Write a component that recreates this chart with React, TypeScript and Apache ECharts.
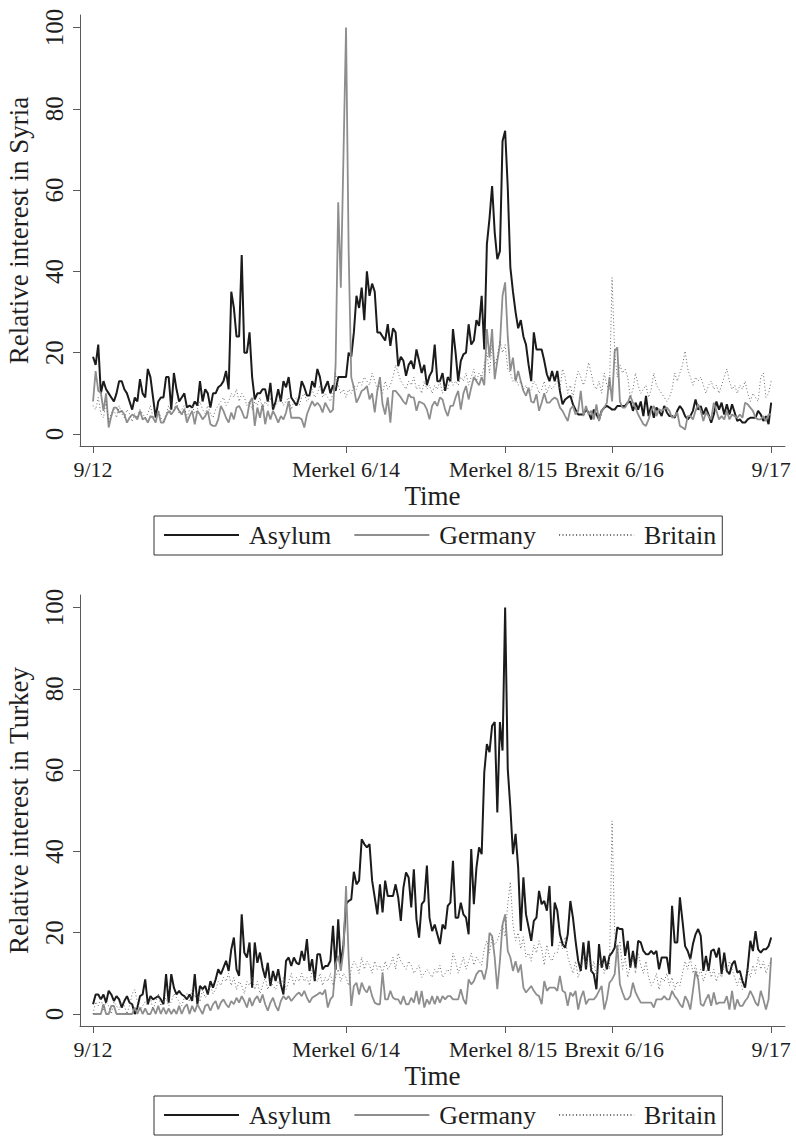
import React, { useEffect, useRef } from "react";
import * as echarts from "echarts";

// Week index 0..260 runs from 9/12 to 9/17
const X_TICKS = [0, 97, 158, 199, 260];
const X_LABELS = ["9/12", "Merkel 6/14", "Merkel 8/15", "Brexit 6/16", "9/17"];
const Y_TICKS = [0, 20, 40, 60, 80, 100];
const SERIES_NAMES = ["Asylum", "Germany", "Britain"];

const syriaAsylum = [
  19, 17, 22, 10, 13, 11, 10, 9, 8, 10,
  13, 13, 11, 10, 8, 6, 9, 8, 13.5, 10,
  9, 16, 14, 9, 4, 8, 9, 9, 14, 14,
  6, 15, 11, 8, 9, 10, 6.5, 7, 6.5, 8,
  7, 13, 8, 11, 10, 6.5, 10, 10, 11.5, 12,
  13, 15.5, 11, 35, 31, 24, 24, 44, 20, 20,
  25, 14, 8.5, 10, 10, 11, 11, 8, 12.6, 6,
  8, 11, 8, 13, 11.5, 14, 9, 8, 7, 9,
  13, 11.5, 9.5, 9.5, 13, 11.5, 16, 14, 10, 11.5,
  13, 10, 12, 10.6, 14, 14, 14, 14, 20, 19,
  25, 34, 31, 36, 28, 40, 34, 37, 35, 25,
  25, 24, 23, 27, 21.7, 26, 25, 16.7, 19, 18,
  14.3, 17, 18, 16, 20.8, 18, 15, 17, 12, 14.3,
  15.5, 22, 13, 13, 15, 10.6, 14, 13, 25.8, 20,
  13, 18, 19.6, 20, 27, 22, 23, 28, 26.6, 34,
  20.8, 46.7, 53, 61, 49.6, 43, 45, 72, 74.6, 60.7,
  41, 35, 30, 26, 28, 24, 22, 17, 13, 25,
  20.8, 20.8, 20.8, 18, 14.7, 13, 15.5, 13, 15.5, 10.6,
  7.3, 8.5, 9, 9.4, 7.3, 6, 4.8, 4.8, 4.8, 6,
  5.3, 3.6, 6, 4.8, 3.6, 5.7, 6.5, 6.9, 6.5, 6,
  6, 6.9, 6.9, 6.9, 6.9, 7.7, 8, 5.7, 7.7, 6,
  8, 4.4, 9.4, 4.4, 6.9, 4, 6.5, 5.7, 4.4, 6.9,
  5.3, 4.4, 4.4, 4, 5.7, 6.9, 6, 4.4, 3.6, 4.4,
  5.7, 8.5, 6, 6.9, 4.8, 6.5, 4.8, 2.8, 4.8, 8,
  6, 7.7, 4.8, 7.3, 4.8, 7.3, 5.3, 3.2, 3.6, 2.8,
  2.8, 3.6, 4, 4, 4, 5.7, 4.8, 3.2, 4.4, 2.4,
  7.7,
];

const syriaGermany = [
  8, 15.5, 10.6, 10.2, 5.7, 10, 1.6, 4.4, 6.5, 6.5,
  5.3, 5.7, 4.8, 2.8, 4, 4.8, 4.4, 3.6, 5.7, 3.6,
  4, 2.8, 4.4, 4, 2.8, 5.7, 2.8, 2.8, 4.4, 5.7,
  4.8, 5.7, 6.9, 5.7, 4.8, 6.1, 2.8, 4.4, 5.7, 2.4,
  5.7, 4.8, 3.6, 4.4, 5.7, 2.4, 2, 2, 3.6, 6.9,
  5.7, 4, 2.8, 5.3, 3.6, 6.5, 6.9, 5.7, 4, 4,
  7.7, 8.9, 2, 6.5, 4, 7.3, 2.4, 5.7, 3.6, 5.7,
  4.4, 2.8, 4.4, 3.6, 5.3, 8.1, 4, 4, 4, 4,
  3.6, 1.6, 4.8, 6.5, 8.1, 6.9, 7.7, 6.9, 5.3, 7.7,
  6.5, 5.3, 6, 17, 57, 36, 68, 100, 45, 14,
  11.4, 7.7, 9, 10.6, 11, 11.8, 8.5, 10, 5.3, 10.6,
  14, 7.3, 4.8, 9, 2.8, 10.6, 10.6, 9.8, 9, 8,
  7.3, 9.8, 9, 9, 5.7, 8, 7.7, 7.3, 6, 3.6,
  6.9, 8, 6.9, 9, 8.5, 6, 4.4, 6.9, 6.9, 9,
  10.6, 6, 10, 11.8, 8.5, 11.4, 14, 13, 12, 14,
  12, 25.8, 18.8, 25.8, 13.5, 18, 22, 34, 37.3, 24,
  15.5, 18.8, 13, 15.5, 13, 10.6, 9.4, 11.4, 8, 7.7,
  9.8, 5.7, 7.7, 10, 7.7, 7.7, 8.5, 9, 8.5, 6.5,
  5.7, 4.4, 3.2, 6.1, 6.9, 4.8, 5.7, 10.6, 4.4, 6.9,
  4.8, 5.7, 3.6, 7.3, 3.2, 5.7, 6.5, 7.7, 14, 8,
  20.4, 21.3, 8, 6.5, 6.5, 7.7, 9.4, 7.7, 6.5, 4.8,
  3.6, 2.4, 2, 3.6, 5.7, 6.9, 4.4, 6.1, 5.7, 6.1,
  6.5, 5.7, 4, 4.4, 5.3, 2, 1.6, 1.1, 4.4, 4.4,
  3.6, 5.7, 7.3, 5.7, 3.2, 5.3, 4.4, 3.6, 7.7, 5.7,
  3.6, 4.4, 3.6, 5.7, 3.6, 4.8, 4.4, 4, 4.8, 4,
  7.7, 7.3, 6.5, 5.7, 4, 3.6, 3.6, 4.4, 3.2, 4.8,
  4.8,
];

const syriaBritain = [
  7, 6, 9, 5, 4, 8, 3, 5, 6, 4,
  7, 5, 4, 6, 5, 3, 5, 4, 6, 5,
  4, 5, 7, 4, 5, 6, 4, 3, 5, 7,
  5, 6, 8, 5, 6, 7, 4, 6, 7, 5,
  6, 8, 6, 5, 7, 5, 4, 6, 7, 8,
  9, 7, 8, 10, 9, 11, 8, 10, 9, 7,
  8, 6, 8, 7, 9, 6, 8, 7, 9, 6,
  7, 8, 9, 7, 8, 9, 6, 8, 9, 7,
  9, 10, 8, 9, 11, 9, 10, 12, 9, 10,
  9, 8, 10, 15, 12, 10, 11, 9, 11, 10,
  12, 11, 13, 12, 14, 13, 12, 15, 13, 11,
  12, 10, 13, 11, 12, 14, 17, 15, 13, 12,
  11, 13, 12, 14, 11, 12, 10, 13, 11, 12,
  10, 12, 11, 13, 10, 12, 11, 14, 12, 13,
  12, 14, 13, 15, 12, 14, 16, 13, 15, 14,
  17, 20, 15, 22, 17, 19, 23, 20, 22, 16,
  15, 13, 14, 12, 13, 11, 12, 10, 11, 13,
  12, 10, 11, 13, 10, 12, 11, 12, 13, 11,
  16, 14, 10, 12, 9, 13, 15.5, 14, 12, 14,
  17.6, 15, 12, 11, 13, 10, 15, 12, 11, 38.5,
  20, 14, 17, 15, 16, 14, 9, 11, 15, 12,
  10, 11, 12, 9, 11, 15, 12, 11, 10, 9,
  8, 9, 11, 15, 13, 15, 17, 20.4, 16, 14,
  12, 14, 13, 14, 12, 10, 12, 13, 11, 12,
  10, 12, 14, 16, 13, 11, 12, 10, 12, 11,
  13, 10, 8, 10, 9, 8, 14, 15, 9, 10,
  13,
];

const turkeyAsylum = [
  2.4, 4.8, 4.8, 3.6, 4.8, 2.8, 5.7, 4.8, 3.2, 4.4,
  3.6, 1.6, 3.2, 4.4, 2.8, 2.4, 0, 1.6, 4.4, 4.8,
  8.5, 2.4, 4.4, 3.6, 4, 4.4, 3.6, 2.4, 9.8, 2.8,
  9.8, 6.5, 4.8, 5.7, 4.8, 4.4, 3.6, 4.8, 3.2, 9.8,
  2.4, 6.9, 6.1, 6.9, 4.8, 8.1, 6.5, 8.5, 11, 9.8,
  11.4, 13.1, 10.6, 15.9, 18.8, 11, 9.4, 24.5, 15.1, 13.9,
  17.6, 6.5, 17.6, 12.6, 15.1, 11.4, 8.9, 12.6, 6.9, 10.6,
  8.1, 11, 7.3, 4.8, 13.1, 13.9, 11.8, 13.9, 12.6, 12.2,
  15.5, 13.1, 18.4, 10.6, 13.5, 8.1, 14.7, 14.7, 11, 11.8,
  11.8, 13.1, 21.7, 10.9, 23.3, 12.2, 17, 27, 27.8, 28.2,
  35, 31.9, 32.8, 43, 41.8, 41, 41.8, 32.8, 28.7, 24.5,
  31.9, 25, 32.8, 29, 29, 29, 31.9, 28.7, 22.9, 31.1,
  34.8, 33.6, 26.2, 35.6, 23.3, 18.8, 27, 27.8, 36.5, 23.7,
  20.4, 22, 19.6, 17.2, 22, 20.9, 26.6, 27.4, 37.7, 23.7,
  23.7, 27.4, 24.5, 23.7, 19.6, 40.6, 27, 36, 41, 39.3,
  59.4, 66.4, 64.4, 70.9, 71.8, 49.6, 71.8, 64.8, 100, 60.3,
  50.8, 39.3, 44.3, 36, 20.4, 33.6, 24.5, 21.3, 18, 22.9,
  23.7, 30.3, 27, 27.8, 25.4, 31.5, 16.7, 27.4, 25.4, 19.6,
  17.2, 16.3, 19.6, 27.8, 23.7, 18, 13.1, 10.6, 17.6, 11,
  18, 10.6, 9.8, 6.1, 17.2, 11.4, 14.3, 11, 14.3, 15.1,
  16.3, 21.3, 20.9, 20.9, 14.3, 18, 11.4, 15.5, 11.4, 18,
  17.6, 15.5, 14.7, 14.7, 15.5, 14.7, 15.5, 11, 13.9, 13.9,
  13.9, 9.8, 26.6, 17.6, 17.6, 28.7, 22.9, 16.7, 15.5, 13.5,
  17.2, 19.6, 20.9, 19.2, 10.6, 14.3, 10.6, 15.5, 15.9, 13.9,
  16.3, 9.8, 15.1, 10.6, 9.8, 12.2, 13.1, 10.2, 10.6, 8.1,
  6.5, 11.4, 18, 15.5, 20.4, 15.9, 15.1, 15.9, 15.9, 16.7,
  18.8,
];

const turkeyGermany = [
  0, 0, 0, 0, 2.4, 0, 0, 2, 2, 0,
  0, 0, 0, 0, 0, 0, 1.6, 0, 1.6, 0,
  1.4, 0, 0, 1.6, 0, 2, 0, 1.6, 0, 1.4,
  0, 1.2, 0, 2, 0, 1.6, 2.4, 0, 2, 0.5,
  2.4, 1.2, 0, 2, 2.4, 0.8, 2.4, 3.2, 1.2, 2.8,
  3.6, 2.4, 1.6, 3.2, 2.4, 4, 2.8, 4.4, 3.2, 1.6,
  4, 2, 3.6, 4.4, 2.8, 4.8, 2.4, 0.8, 2.8, 4,
  2, 0.8, 3.2, 4.4, 3.6, 4.4, 3.2, 4, 4.8, 5.3,
  4.4, 5.7, 4, 2.8, 4, 4.4, 4.8, 5.3, 4.8, 6,
  1.6, 3.6, 4.4, 12.2, 14.3, 10.6, 15.5, 31.5, 14, 2,
  6.9, 7.7, 4.8, 7.7, 6.1, 5.3, 6.9, 4.4, 2.8, 2.4,
  2.4, 10.2, 3.6, 3.6, 5.7, 4, 3.6, 3.6, 2.4, 4.4,
  2.4, 2.4, 4, 2.8, 5.7, 2.4, 5.7, 1.6, 3.6, 2.4,
  4.4, 2.4, 4.4, 2.8, 4.4, 3.6, 4.4, 4.4, 3.6, 3.6,
  3.6, 6.1, 3.6, 2.4, 8.5, 7.3, 8.1, 9.8, 10.6, 10.6,
  8.5, 11.4, 20, 19.2, 13.9, 6.1, 13.1, 22, 24.5, 15.5,
  13.9, 10.6, 13, 10.2, 12.2, 6.5, 5.3, 6.1, 6.9, 5.7,
  4.8, 4.4, 2.4, 8.1, 5.7, 6.5, 6.5, 6.5, 5.7, 9.4,
  5.7, 5.3, 2, 5.3, 4.4, 5.7, 1.1, 4, 5.7, 2.4,
  3.6, 3.6, 3.6, 4.4, 5.7, 6.9, 1.1, 3.6, 7.7, 8.5,
  9.8, 17, 7.3, 5.3, 3.6, 3.6, 4.4, 7.7, 5.3, 4,
  2.8, 2.8, 2.8, 2.8, 2.8, 1.6, 3.6, 3.6, 3.6, 4.4,
  3.6, 3.6, 5.7, 4.4, 3.6, 2.4, 1.6, 4.4, 3.2, 1.1,
  5.7, 10.6, 8.5, 2.4, 2, 3.6, 4.8, 2, 5.3, 2.4,
  2.8, 2.8, 2.8, 4.4, 1.1, 5.7, 1.1, 3.6, 2, 2,
  3.2, 4, 5.7, 4.4, 2.8, 2, 5.7, 3.6, 1.1, 3.6,
  13.9,
];

const turkeyBritain = [
  0, 3, 2, 4, 1, 3, 2, 0, 3, 2,
  1, 3, 2, 0, 2, 5, 6, 3, 1, 2,
  3, 2, 4, 1, 3, 5, 2, 3, 4, 2,
  3, 5, 4, 3, 2, 4, 5, 3, 6, 4,
  5, 3, 6, 4, 5, 7, 5, 6, 8, 7,
  9, 8, 10, 7, 9, 6, 8, 7, 5, 8,
  7, 9, 6, 8, 5, 7, 9, 6, 8, 7,
  6, 8, 7, 9, 6, 8, 10, 7, 9, 8,
  10, 8, 9, 7, 11, 9, 8, 10, 7, 9,
  8, 10, 7, 9, 11, 8, 10, 9, 7, 11,
  13, 12, 10, 14, 11, 13, 12, 10, 13, 11,
  12, 10, 13, 11, 12, 14, 11, 15, 13, 12,
  11, 13, 12, 10, 11, 12, 9, 10, 11, 10,
  9, 11, 10, 12, 9, 10, 11, 10, 15, 13,
  10, 12, 14, 11, 13, 15, 12, 14, 13, 12,
  16, 18, 15, 19, 17, 18, 20, 22, 19, 27,
  32.5, 22, 18, 20, 16, 19, 14, 15, 13, 17,
  15, 18, 16, 12, 17, 14, 13, 15, 15, 18,
  16, 19, 14, 12, 10, 13, 9, 11, 14, 12,
  15, 10, 13, 9, 12, 14, 10, 13, 11, 47.5,
  20, 15, 18, 11, 14, 9, 12, 14, 10, 15,
  12, 10, 13, 9, 7, 8, 10, 6, 9, 8,
  10, 7, 9, 6, 8, 7, 10, 13, 11, 14,
  10, 12, 9, 11, 8, 10, 12, 9, 11, 8,
  10, 9, 12, 10, 13, 11, 9, 7, 9, 6,
  8, 11, 9, 12, 10, 14, 11, 13, 10, 12,
  13,
];

const FONT = "Liberation Serif, Times New Roman, serif";
const TEXT_COLOR = "#1e1e1e";
const AXIS_COLOR = "#5a5a5a";

const PANEL_OFFSET = 580;
const GRID_TOP = 15;
const GRID_HEIGHT = 431;

const X_FONT = 22;
const xRich = {
  c: { fontFamily: FONT, fontSize: X_FONT, color: TEXT_COLOR },
  l: { fontFamily: FONT, fontSize: X_FONT, color: TEXT_COLOR, padding: [0, 4, 0, 0] },
  r: { fontFamily: FONT, fontSize: X_FONT, color: TEXT_COLOR, padding: [0, 0, 0, 4] },
};

function xLabel(v: number) {
  const k = X_TICKS.indexOf(v);
  if (k < 0) return "";
  const style = k === 2 ? "l" : k === 3 ? "r" : "c";
  return `{${style}|${X_LABELS[k]}}`;
}

function panelAxes(idx: number, yTitle: string) {
  const xAxis = {
    type: "value",
    gridIndex: idx,
    min: -5,
    max: 265.3,
    axisLine: { show: true, onZero: false, lineStyle: { color: AXIS_COLOR, width: 1 } },
    axisTick: {
      show: true,
      customValues: X_TICKS,
      length: 7,
      lineStyle: { color: AXIS_COLOR, width: 1 },
    },
    axisLabel: {
      customValues: X_TICKS,
      formatter: xLabel,
      fontFamily: FONT,
      fontSize: X_FONT,
      color: TEXT_COLOR,
      margin: 12,
      rich: xRich,
    },
    splitLine: { show: false },
    name: "Time",
    nameLocation: "middle",
    nameGap: 36,
    nameTextStyle: { fontFamily: FONT, fontSize: 27, color: TEXT_COLOR },
  };
  const yAxis = {
    type: "value",
    gridIndex: idx,
    min: -2.95,
    max: 103.07,
    axisLine: { show: true, onZero: false, lineStyle: { color: AXIS_COLOR, width: 1 } },
    axisTick: {
      show: true,
      customValues: Y_TICKS,
      length: 7,
      lineStyle: { color: AXIS_COLOR, width: 1 },
    },
    axisLabel: {
      customValues: Y_TICKS,
      rotate: 90,
      fontFamily: FONT,
      fontSize: 25,
      color: TEXT_COLOR,
      margin: 13,
    },
    splitLine: { show: false },
    name: yTitle,
    nameLocation: "middle",
    nameGap: 48,
    nameTextStyle: {
      fontFamily: FONT,
      fontSize: 27,
      color: TEXT_COLOR,
    },
  };
  return { xAxis, yAxis };
}

function lineSeries(name: string, values: number[], idx: number) {
  const styles: Record<string, any> = {
    Asylum: { color: "#1b1b1b", width: 2, type: "solid" },
    Germany: { color: "#8e8e8e", width: 1.8, type: "solid" },
    Britain: { color: "#6a6a6a", width: 1, type: [1, 2.4] },
  };
  return {
    type: "line",
    name,
    xAxisIndex: idx,
    yAxisIndex: idx,
    data: values.map((v, i) => [i, v]),
    symbol: "none",
    showSymbol: false,
    silent: true,
    color: styles[name].color,
    lineStyle: styles[name],
  };
}

function legendFor(top: number) {
  return {
    data: SERIES_NAMES,
    left: 154,
    top,
    orient: "horizontal",
    itemWidth: 75,
    itemHeight: 14,
    itemGap: 22,
    selectedMode: false,
    borderColor: "#333",
    borderWidth: 1,
    padding: [4, 6, 5, 9],
    itemStyle: { opacity: 0, borderWidth: 0 },
    textStyle: {
      fontFamily: FONT,
      fontSize: 26,
      color: TEXT_COLOR,
      lineHeight: 30,
      padding: [0, 0, 0, 5],
    },
  };
}

export default function App() {
  const ref = useRef<HTMLDivElement>(null);

  useEffect(() => {
    if (!ref.current) return;
    const chart = echarts.init(ref.current, undefined, { renderer: "svg" });
    const p1 = panelAxes(0, "Relative interest in Syria");
    const p2 = panelAxes(1, "Relative interest in Turkey");
    chart.setOption({
      animation: false,
      backgroundColor: "#ffffff",
      grid: [
        {
          left: 80,
          width: 705,
          top: GRID_TOP,
          height: GRID_HEIGHT,
          containLabel: false,
          outerBoundsMode: "none",
        },
        {
          left: 80,
          width: 705,
          top: GRID_TOP + PANEL_OFFSET,
          height: GRID_HEIGHT,
          containLabel: false,
          outerBoundsMode: "none",
        },
      ],
      xAxis: [p1.xAxis, p2.xAxis],
      yAxis: [p1.yAxis, p2.yAxis],
      legend: [legendFor(516), legendFor(516 + PANEL_OFFSET)],
      series: [
        lineSeries("Asylum", syriaAsylum, 0),
        lineSeries("Germany", syriaGermany, 0),
        lineSeries("Britain", syriaBritain, 0),
        lineSeries("Asylum", turkeyAsylum, 1),
        lineSeries("Germany", turkeyGermany, 1),
        lineSeries("Britain", turkeyBritain, 1),
      ],
    });
    return () => chart.dispose();
  }, []);

  return (
    <div
      ref={ref}
      style={{ position: "absolute", left: 0, top: 0, width: 796, height: 1137, background: "#fff" }}
    />
  );
}
